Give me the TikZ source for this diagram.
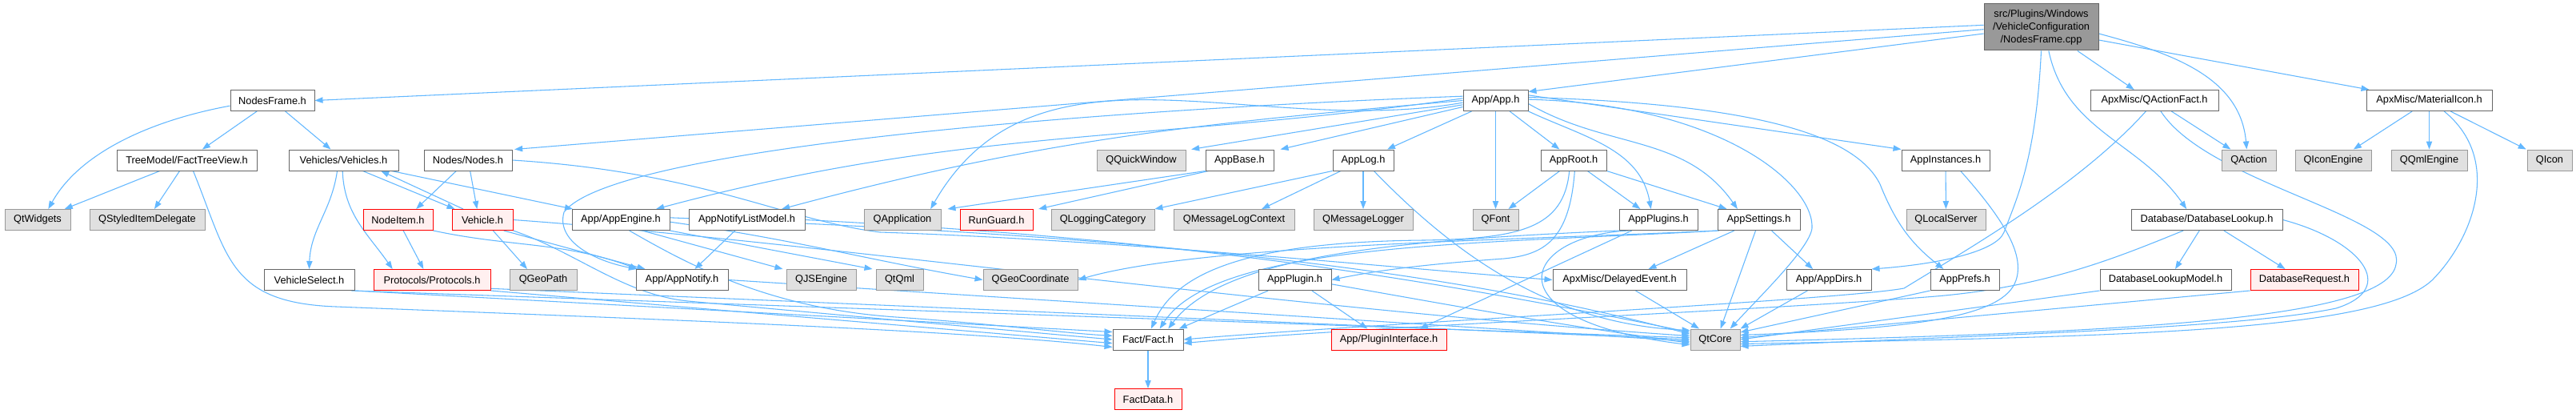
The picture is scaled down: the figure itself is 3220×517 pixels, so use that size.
\documentclass[tikz,border=0pt]{standalone}
\usepackage{fontspec}
\setmainfont{Liberation Sans}
\usetikzlibrary{arrows.meta}
\definecolor{edgeblue}{HTML}{63B8FF}
\definecolor{boxgray}{HTML}{666666}
\definecolor{sysgray}{HTML}{999999}
\definecolor{sysfill}{HTML}{E0E0E0}
\definecolor{truncfill}{HTML}{FFF0F0}
\definecolor{rootfill}{HTML}{999999}
\newcommand\dfont{\fontsize{9.6}{12}\selectfont}
\pgfdeclarelayer{back}
\pgfdeclarelayer{edgelayer}
\pgfsetlayers{back,edgelayer,main}
\tikzset{
  nbase/.style={rectangle, inner sep=0pt, minimum height=19.5pt, line width=0.75pt, font=\dfont, text=black},
  file/.style={nbase, draw=boxgray, fill=white},
  sys/.style={nbase, draw=sysgray, fill=sysfill},
  trunc/.style={nbase, draw=red, fill=truncfill},
  root/.style={nbase, draw=boxgray, fill=rootfill, align=center, minimum height=43.5pt},
  bw/.style={minimum width=#1*0.75pt},
  edg/.style={draw=edgeblue, line width=0.8pt, -{Triangle[length=7.5pt,width=5.5pt]}},
}
\begin{document}
\begin{tikzpicture}[x=0.75pt,y=-0.75pt]
\begin{pgfonlayer}{back}
\fill[white] (0,0) rectangle (3220,517);
\end{pgfonlayer}
\useasboundingbox (0,0) rectangle (3220,517);
% row 0
\node[root, bw=143] (src) at (2551.5,34) {src/Plugins/Windows\\/VehicleConfiguration\\/NodesFrame.cpp};
% row 1
\node[file, bw=105] (nframe) at (340.5,125.5) {NodesFrame.h};
\node[file, bw=81] (app) at (1869.5,125.5) {App/App.h};
\node[file, bw=160] (qaf) at (2693,125.5) {ApxMisc/QActionFact.h};
\node[file, bw=157] (mat) at (3036.5,125.5) {ApxMisc/MaterialIcon.h};
% row 2
\node[file, bw=175] (ftv) at (233.5,200) {TreeModel/FactTreeView.h};
\node[file, bw=137] (vehs) at (429.5,200) {Vehicles/Vehicles.h};
\node[file, bw=110] (nodes) at (585,200) {Nodes/Nodes.h};
\node[sys, bw=111] (qqw) at (1426.5,200) {QQuickWindow};
\node[file, bw=85] (abase) at (1549.5,200) {AppBase.h};
\node[file, bw=76] (alog) at (1704,200) {AppLog.h};
\node[file, bw=82] (aroot) at (1967,200) {AppRoot.h};
\node[file, bw=110] (ainst) at (2432,200) {AppInstances.h};
\node[sys, bw=68] (qact) at (2811,200) {QAction};
\node[sys, bw=95] (qie) at (2916.5,200) {QIconEngine};
\node[sys, bw=95] (qqe) at (3036.5,200) {QQmlEngine};
\node[sys, bw=56] (qicon) at (3187,200) {QIcon};
% row 3
\node[sys, bw=82] (qtw) at (47,274.5) {QtWidgets};
\node[sys, bw=144] (qsid) at (184,274.5) {QStyledItemDelegate};
\node[trunc, bw=87] (nitem) at (497.5,274.5) {NodeItem.h};
\node[trunc, bw=76] (veh) at (603,274.5) {Vehicle.h};
\node[file, bw=122] (aeng) at (776,274.5) {App/AppEngine.h};
\node[file, bw=145] (anlm) at (933.5,274.5) {AppNotifyListModel.h};
\node[sys, bw=96] (qapp) at (1128,274.5) {QApplication};
\node[trunc, bw=91] (rung) at (1245.5,274.5) {RunGuard.h};
\node[sys, bw=129] (qlc) at (1378.5,274.5) {QLoggingCategory};
\node[sys, bw=151] (qmlc) at (1542.5,274.5) {QMessageLogContext};
\node[sys, bw=124] (qml) at (1704,274.5) {QMessageLogger};
\node[sys, bw=57] (qfont) at (1869.5,274.5) {QFont};
\node[file, bw=98] (aplugs) at (2073,274.5) {AppPlugins.h};
\node[file, bw=103] (aset) at (2198.5,274.5) {AppSettings.h};
\node[sys, bw=99] (qls) at (2432.5,274.5) {QLocalServer};
\node[file, bw=189] (dbl) at (2758.5,274.5) {Database/DatabaseLookup.h};
% row 4
\node[file, bw=113] (vsel) at (386.5,349.5) {VehicleSelect.h};
\node[trunc, bw=146] (proto) at (540,349.5) {Protocols/Protocols.h};
\node[sys, bw=84] (qgp) at (679,349.5) {QGeoPath};
\node[file, bw=115] (anot) at (852.5,349.5) {App/AppNotify.h};
\node[sys, bw=87] (qjs) at (1026.5,349.5) {QJSEngine};
\node[sys, bw=59] (qtqml) at (1124.5,349.5) {QtQml};
\node[sys, bw=118] (qgc) at (1288,349.5) {QGeoCoordinate};
\node[file, bw=91] (aplug) at (1618.5,349.5) {AppPlugin.h};
\node[file, bw=167] (dev) at (2024.5,349.5) {ApxMisc/DelayedEvent.h};
\node[file, bw=106] (adirs) at (2286,349.5) {App/AppDirs.h};
\node[file, bw=86] (apref) at (2456,349.5) {AppPrefs.h};
\node[file, bw=164] (dblm) at (2707,349.5) {DatabaseLookupModel.h};
\node[trunc, bw=135] (dbr) at (2880.5,349.5) {DatabaseRequest.h};
% row 5
\node[file, bw=88] (fact) at (1435,424) {Fact/Fact.h};
\node[trunc, bw=144] (pint) at (1736,424) {App/PluginInterface.h};
\node[sys, bw=62] (qtcore) at (2144,424) {QtCore};
% row 6
\node[trunc, bw=84] (fdata) at (1435,498.5) {FactData.h};

\begin{pgfonlayer}{edgelayer}
% source
\draw[edg] ([yshift=2pt]src.west) -- (nframe.east);
\draw[edg] ([yshift=-2pt]src.west) -- ([xshift=2pt]nodes.north east);
\draw[edg] ([yshift=-6pt]src.west) -- (app.15);
\draw[edg] ([xshift=34pt]src.south) -- ([xshift=-19pt]qaf.north);
\draw[edg] ([yshift=-6pt]src.east) to[out=-15,in=95] ([xshift=-2pt]qact.north);
\draw[edg] ([yshift=-12pt]src.east) -- ([xshift=3pt]mat.north west);
\draw[edg] ([xshift=7pt]src.south) to[out=-78,in=125] ([xshift=-19pt]dbl.north);
\draw[edg] (src.south) .. controls (2545,200) and (2520,250) .. (2505,290) .. controls (2495,315) and (2420,330) .. (adirs.north east);
% NodesFrame
\draw[edg] ([yshift=-5pt]nframe.west) .. controls (190,150) and (100,190) .. ([xshift=10pt]qtw.north);
\draw[edg] (nframe) -- (ftv);
\draw[edg] (nframe) -- (vehs);
\draw[edg] (ftv) -- (qtw);
\draw[edg] (ftv) -- (qsid);
\draw[edg] ([xshift=6pt]ftv.south) .. controls (285,320) and (285,378) .. (420,383) .. controls (800,398) and (1200,412) .. (fact.192);
% Vehicles
\draw[edg] ([xshift=-6pt]vehs.south) to[out=-98,in=88] (vsel.north);
\draw[edg] ([xshift=-1pt]vehs.south) to[out=-88,in=125] ([xshift=-37pt]proto.north);
\draw[edg] ([xshift=18pt]vehs.south) -- ([xshift=3pt]veh.north west);
\draw[edg] ([xshift=-18pt]veh.north) -- ([xshift=35pt]vehs.south);
\draw[edg] ([xshift=45pt]vehs.south) -- ([xshift=-45pt]aeng.north);
% Nodes
\draw[edg] ([xshift=-11pt]nodes.south) -- ([xshift=17pt]nitem.north);
\draw[edg] ([xshift=2pt]nodes.south) -- ([xshift=-5pt]veh.north);
\draw[edg] (nodes.east) .. controls (880,215) and (980,275) .. (1100,290) .. controls (1400,300) and (1750,335) .. (dev.west);
% NodeItem
\draw[edg] ([xshift=5pt]nitem.south) -- ([xshift=-8pt]proto.north);
\draw[edg] (nitem.south east) to[out=-12,in=160] ([xshift=2pt]anot.north west);
% Vehicle
\draw[edg] ([xshift=10pt]veh.south) -- ([xshift=-15pt]qgp.north);
\draw[edg] ([xshift=20pt]veh.south) -- ([xshift=9pt]anot.north west);
\draw[edg] (veh.south east) .. controls (720,315) and (780,368) .. (860,376) .. controls (1100,398) and (1300,416) .. (fact.180);
\draw[edg] (veh.east) .. controls (1000,300) and (1600,385) .. (qtcore.172);
% VehicleSelect, Protocols
\draw[edg] (vsel.south east) -- (fact.168);
\draw[edg] ([xshift=-3pt]vsel.south east) -- (qtcore.176);
\draw[edg] (proto.south east) -- (fact.186);
\draw[edg] ([yshift=2pt]proto.south east) -- (qtcore.180);
% AppNotify, AppNotifyListModel
\draw[edg] (anot.east) -- (qtcore.184);
\draw[edg] ([xshift=-11pt]anlm.south) -- ([xshift=12pt]anot.north);
\draw[edg] (anlm.east) .. controls (1400,295) and (1700,330) .. (qtcore.164);
% AppEngine
\draw[edg] ([xshift=20pt]aeng.south) -- ([xshift=-3pt]qjs.north west);
\draw[edg] (aeng.south east) -- ([xshift=-3pt]qtqml.north west);
\draw[edg] ([yshift=-2pt]aeng.east) to[out=-8,in=170] (qgc.west);
\draw[edg] ([xshift=8pt]aeng.south) .. controls (860,330) and (960,385) .. (1120,396) .. controls (1250,405) and (1330,416) .. (fact.174);
\draw[edg] ([yshift=2pt]aeng.east) .. controls (1300,290) and (1750,320) .. (qtcore.168);
% App
\draw[edg] ([yshift=-4pt]app.west) -- ([xshift=5pt]qqw.north east);
\draw[edg] ([yshift=-6pt]app.west) -- ([xshift=6pt]abase.north east);
\draw[edg] (app) -- (alog);
\draw[edg] (app) -- (qfont);
\draw[edg] (app) -- (aroot);
\draw[edg] (app.south east) to[out=-25,in=100] ([xshift=-7pt]aplugs.north);
\draw[edg] ([yshift=-3pt]app.east) to[out=-30,in=125] ([xshift=-20pt]aset.north);
\draw[edg] ([yshift=5pt]app.east) -- (ainst.north west);
\draw[edg] ([yshift=3pt]app.east) .. controls (2200,130) and (2320,170) .. (2350,230) .. controls (2370,280) and (2390,305) .. ([xshift=-20pt]apref.north);
\draw[edg] ([yshift=1pt]app.east) .. controls (2150,130) and (2268,230) .. (2265,285) .. controls (2262,310) and (2200,370) .. ([xshift=14pt]qtcore.north);
\draw[edg] ([yshift=2pt]app.west) to[out=188,in=15] ([xshift=-13pt]aeng.north east);
\draw[edg] (app.west) to[out=185,in=15] ([xshift=-22pt]anlm.north east);
\draw[edg] ([yshift=4pt]app.west) .. controls (1300,140) and (760,190) .. (705,265) .. controls (695,300) and (740,325) .. ([xshift=1pt]anot.north west);
\draw[edg] ([yshift=-2pt]app.west) to[out=190,in=60] ([xshift=-10pt]qapp.north east);
% AppBase
\draw[edg] (abase.south west) -- ([xshift=6pt]qapp.north east);
\draw[edg] ([xshift=3pt]abase.south west) -- ([xshift=5pt]rung.north east);
% AppLog
\draw[edg] (alog.south west) -- (qlc.north east);
\draw[edg] ([xshift=-21pt]alog.south) -- ([xshift=26pt]qmlc.north);
\draw[edg] (alog) -- (qml);
\draw[edg] ([xshift=10pt]alog.south) .. controls (1830,330) and (1950,405) .. (qtcore.160);
% AppRoot
\draw[edg] ([xshift=-13pt]aroot.south) -- ([xshift=12pt]qfont.north);
\draw[edg] ([xshift=13pt]aroot.south) -- ([xshift=-17pt]aplugs.north);
\draw[edg] (aroot.south east) -- ([xshift=-30pt]aset.north);
\draw[edg] ([xshift=-4pt]aroot.south) .. controls (1955,285) and (1900,298) .. (1780,300) .. controls (1560,302) and (1470,340) .. ([xshift=3pt]fact.north);
\draw[edg] ([xshift=1pt]aroot.south) .. controls (1962,300) and (1930,318) .. (1880,323) .. controls (1780,330) and (1720,338) .. (aplug.east);
% AppPlugins
\draw[edg] ([xshift=-25pt]aplugs.south) -- ([xshift=29pt]pint.north);
\draw[edg] ([xshift=-28pt]aplugs.south) .. controls (1900,295) and (1860,400) .. (qtcore.192);
\draw[edg] (aplugs.south west) .. controls (1750,300) and (1530,318) .. ([xshift=19pt]fact.north);
% AppSettings
\draw[edg] ([xshift=-23pt]aset.south) -- ([xshift=27pt]dev.north);
\draw[edg] ([xshift=-3pt]aset.south) -- ([xshift=5pt]qtcore.north);
\draw[edg] ([xshift=12pt]aset.south) -- ([xshift=-15pt]adirs.north);
\draw[edg] (aset.south west) .. controls (1900,300) and (1500,305) .. (qgc.east);
\draw[edg] ([xshift=2pt]aset.south west) .. controls (1850,305) and (1520,302) .. ([xshift=11pt]fact.north);
% AppPlugin
\draw[edg] ([xshift=-25pt]aplug.south) -- ([xshift=29pt]fact.north);
\draw[edg] ([xshift=16pt]aplug.south) -- ([xshift=-20pt]pint.north);
\draw[edg] ([yshift=-4pt]aplug.east) to[out=-10,in=172] (qtcore.188);
% DelayedEvent, AppInstances, AppDirs, AppPrefs
\draw[edg] ([xshift=15pt]dev.south) -- ([xshift=-15pt]qtcore.north);
\draw[edg] (ainst) -- (qls);
\draw[edg] ([xshift=14pt]ainst.south) .. controls (2510,280) and (2530,320) .. (2520,350) .. controls (2505,395) and (2400,410) .. (qtcore.10);
\draw[edg] ([xshift=-20pt]adirs.south) -- (qtcore.north east);
\draw[edg] (apref.south west) -- (qtcore.16);
% QActionFact
\draw[edg] ([xshift=16pt]qaf.south) -- ([xshift=-17pt]qact.north);
\draw[edg] ([xshift=-8pt]qaf.south) .. controls (2600,230) and (2470,305) .. (2380,360) .. controls (2300,375) and (1700,405) .. (fact.east);
\draw[edg] ([xshift=6pt]qaf.south) .. controls (2760,230) and (3010,270) .. (2995,330) .. controls (2985,400) and (2650,415) .. (qtcore.-5);
% MaterialIcon
\draw[edg] ([xshift=-16pt]mat.south) -- ([xshift=19pt]qie.north);
\draw[edg] (mat) -- (qqe);
\draw[edg] ([xshift=20pt]mat.south) -- ([xshift=-22pt]qicon.north);
\draw[edg] ([xshift=14pt]mat.south) .. controls (3130,200) and (3090,300) .. (3040,350) .. controls (2970,415) and (2650,420) .. (qtcore.-10);
% DatabaseLookup
\draw[edg] ([xshift=-7pt]dbl.south) -- ([xshift=9pt]dblm.north);
\draw[edg] ([xshift=16pt]dbl.south) -- ([xshift=-18pt]dbr.north);
\draw[edg] ([xshift=-22pt]dbl.south) .. controls (2650,320) and (2560,358) .. (2420,370) .. controls (2200,388) and (1700,408) .. (fact.-6);
\draw[edg] (dbl.east) .. controls (2950,300) and (3000,360) .. (2920,385) .. controls (2800,410) and (2500,418) .. (qtcore.-15);
\draw[edg] (dblm.south west) -- (qtcore.0);
\draw[edg] (dbr.south west) -- (qtcore.4);
% Fact
\draw[edg] (fact) -- (fdata);
\end{pgfonlayer}
\end{tikzpicture}
\end{document}
